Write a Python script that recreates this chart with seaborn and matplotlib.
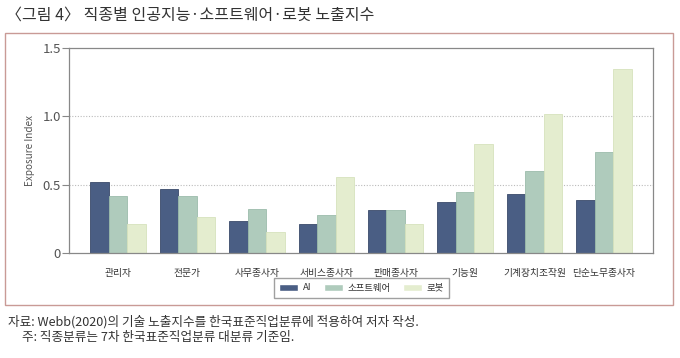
import matplotlib
matplotlib.use("Agg")
import matplotlib.pyplot as plt
import seaborn as sns
import pandas as pd
from matplotlib.patches import Rectangle

categories = ["관리자", "전문가", "사무종사자", "서비스종사자", "판매종사자", "기능원", "기계장치조작원", "단순노무종사자"]
ai = [0.52, 0.465, 0.235, 0.21, 0.315, 0.37, 0.435, 0.39]
software = [0.42, 0.415, 0.32, 0.275, 0.315, 0.445, 0.60, 0.74]
robot = [0.21, 0.26, 0.155, 0.555, 0.21, 0.795, 1.02, 1.35]
series_names = ["AI", "소프트웨어", "로봇"]
yticks = [0, 0.5, 1.0, 1.5]
ytick_labels = ["0", "0.5", "1.0", "1.5"]

sns.set_theme(style="white")
plt.rcParams["font.family"] = ["Noto Sans CJK KR", "DejaVu Sans"]

df = pd.DataFrame({
    "category": categories * 3,
    "value": ai + software + robot,
    "series": [series_names[0]] * 8 + [series_names[1]] * 8 + [series_names[2]] * 8,
})

colors = ["#4a5e84", "#afcbbc", "#e4edcf"]
edges = ["#3a4a6a", "#9cbcab", "#d6e2bd"]

fig = plt.figure(figsize=(6.8, 3.58), dpi=100)
ax = fig.add_axes([69 / 680, 1 - 253 / 358, (653 - 69) / 680, (253 - 48) / 358])

sns.barplot(data=df, x="category", y="value", hue="series", palette=colors,
            width=0.8, ax=ax, legend=True, saturation=1)
for i, cont in enumerate(ax.containers):
    for b in cont:
        b.set_edgecolor(edges[i])
        b.set_linewidth(0.6)

ax.set_xlim(-0.706, 7.706)
ax.set_ylim(0, 1.5)
ax.set_yticks(yticks)
ax.set_yticklabels(ytick_labels)
for y in [0.5, 1.0]:
    ax.axhline(y, color="#bbbbbb", linestyle=(0, (1, 1.5)), linewidth=0.8, zorder=0)
for s in ax.spines.values():
    s.set_color("#888888")
    s.set_linewidth(0.9)
ax.tick_params(axis="y", which="both", left=True, length=5, width=0.8, color="#888888",
               labelsize=9.5, labelcolor="#555555", pad=1)
ax.tick_params(axis="x", bottom=False, labelsize=7.0, labelcolor="#333333", pad=5)
ax.set_xlabel("")
ax.set_ylabel("Exposure Index", fontsize=7.2, color="#555555")
ax.yaxis.set_label_coords((35 - 69) / 584, 0.5)

handles, labels = ax.get_legend_handles_labels()
ax.legend(handles, labels, loc="center", bbox_to_anchor=(361.5 / 680, 1 - 288 / 358),
          bbox_transform=fig.transFigure, ncol=3, frameon=True, fontsize=6.8,
          handlelength=2.0, handleheight=0.8, handletextpad=0.5, columnspacing=1.3,
          fancybox=False, edgecolor="#888888", borderpad=0.55)
for t in ax.get_legend().get_texts():
    t.set_color("#333333")

# outer chart frame
fig.patches.append(Rectangle((5 / 680, 1 - 305 / 358), (673 - 5) / 680, (305 - 33) / 358,
                             transform=fig.transFigure, fill=False,
                             edgecolor="#c99a96", linewidth=1.0))

fig.text(6 / 680, 1 - 15 / 358, "〈그림 4〉 직종별 인공지능·소프트웨어·로봇 노출지수",
         fontsize=11.5, color="#333333", va="center", ha="left")
fig.text(8 / 680, 1 - 322 / 358, "자료: Webb(2020)의 기술 노출지수를 한국표준직업분류에 적용하여 저자 작성.",
         fontsize=9.1, color="#333333", va="center", ha="left")
fig.text(22 / 680, 1 - 338 / 358, "주: 직종분류는 7차 한국표준직업분류 대분류 기준임.",
         fontsize=9.1, color="#333333", va="center", ha="left")

fig.savefig("out.png", dpi=100)
